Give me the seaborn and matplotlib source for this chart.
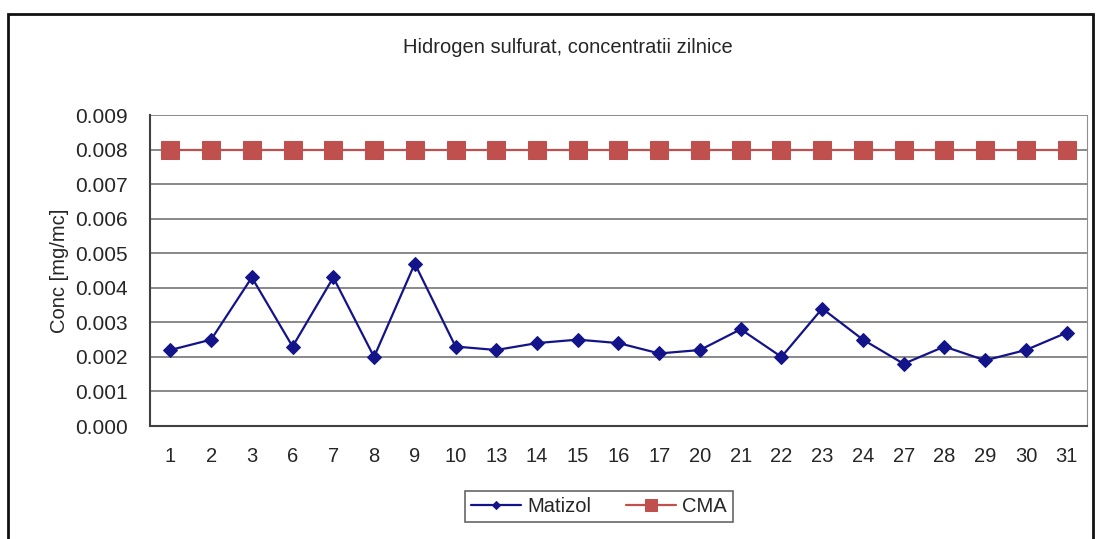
import numpy as np
import pandas as pd
import matplotlib
matplotlib.use("Agg")
from matplotlib import pyplot as plt
from matplotlib.patches import Rectangle
import seaborn as sns

# data
days = ["1", "2", "3", "6", "7", "8", "9", "10", "13", "14", "15", "16",
        "17", "20", "21", "22", "23", "24", "27", "28", "29", "30", "31"]
matizol = [0.0022, 0.0025, 0.0043, 0.0023, 0.0043, 0.0020, 0.0047, 0.0023,
           0.0022, 0.0024, 0.0025, 0.0024, 0.0021, 0.0022, 0.0028, 0.0020,
           0.0034, 0.0025, 0.0018, 0.0023, 0.0019, 0.0022, 0.0027]
cma = [0.008] * len(days)
y_ticks = [0.000, 0.001, 0.002, 0.003, 0.004, 0.005, 0.006, 0.007, 0.008, 0.009]

df = pd.DataFrame({"pos": range(len(days)), "Matizol": matizol, "CMA": cma})

sns.set_style("white")
plt.rcParams["font.family"] = ["Liberation Sans", "DejaVu Sans"]
fs = 14.5

fig = plt.figure(figsize=(11.02, 5.39), dpi=100)
ax = fig.add_axes([0.1361, 0.2096, 0.8503, 0.577])

sns.lineplot(data=df, x="pos", y="Matizol", ax=ax, color="#14148a", marker="D",
             markersize=7, markeredgecolor="#14148a", linewidth=1.6, label="Matizol")
sns.lineplot(data=df, x="pos", y="CMA", ax=ax, color="#c0504d", marker="s",
             markersize=12.5, markeredgecolor="#c0504d", linewidth=1.6, label="CMA")

ax.set_xlim(-0.5, len(days) - 0.5)
ax.set_ylim(0, 0.009)
ax.set_yticks(y_ticks)
ax.set_yticklabels([f"{v:.3f}" for v in y_ticks], fontsize=15)
ax.set_xticks(range(len(days)))
ax.set_xticklabels(days, fontsize=fs)
ax.set_xticks(np.arange(-0.5, len(days)), minor=True)
ax.tick_params(axis="x", which="major", length=0, pad=15)
ax.tick_params(axis="x", which="minor", length=6, width=1, color="#404040", direction="out")
ax.tick_params(axis="y", length=6, width=1, color="#404040", direction="out", pad=10)
ax.yaxis.grid(True, color="#808080", linewidth=1.3)
ax.xaxis.grid(False)
ax.set_axisbelow(True)

for side in ["left", "bottom"]:
    ax.spines[side].set_color("#404040")
    ax.spines[side].set_linewidth(1.5)
ax.spines["right"].set_color("#909090")
ax.spines["top"].set_visible(False)

ax.set_xlabel("")
ax.set_ylabel("Conc [mg/mc]", fontsize=fs, labelpad=4)
fig.text(0.515, 0.911, "Hidrogen sulfurat, concentratii zilnice", ha="center",
         va="center", fontsize=fs)

leg = ax.legend(loc="center", bbox_to_anchor=(0.479, -0.26), ncol=2, frameon=True,
                fancybox=False, fontsize=fs, borderpad=0.3, handlelength=2.5,
                columnspacing=1.7, handletextpad=0.3, markerscale=0.65,
                borderaxespad=0)
leg.get_frame().set_edgecolor("#404040")
leg.get_frame().set_linewidth(1.2)

# outer chart frame
fig.patches.append(Rectangle((8 / 1102, -0.05), (1093 - 8) / 1102, 1 - 14 / 539 + 0.05,
                             transform=fig.transFigure, fill=False,
                             edgecolor="#111111", linewidth=2))

fig.savefig("out.png", dpi=100)
